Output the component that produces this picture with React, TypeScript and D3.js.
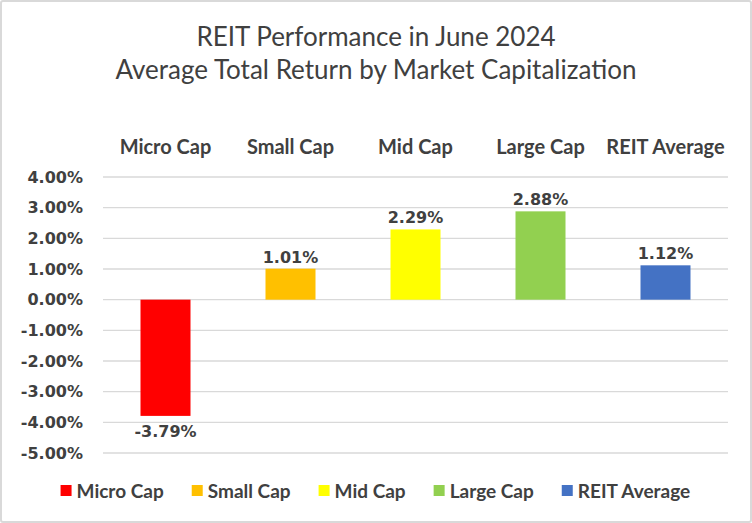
import * as d3 from 'd3';

const categories = ['Micro Cap', 'Small Cap', 'Mid Cap', 'Large Cap', 'REIT Average'];
const values = [-3.79, 1.01, 2.29, 2.88, 1.12];
const colors = ['#ff0000', '#ffc000', '#ffff00', '#92d050', '#4472c4'];
const yTicks = [4, 3, 2, 1, 0, -1, -2, -3, -4, -5];
const titleLines = ['REIT Performance  in June 2024', 'Average Total Return by Market Capitalization'];

const W = 752;
const H = 523;
const margin = { top: 177, right: 24, bottom: 70, left: 103 };
const FONT = 'Lato, "Open Sans", sans-serif';
const TICK_FONT = '"DejaVu Sans", Verdana, sans-serif';
const INK = '#404040';

const pct = (v: number) => `${v.toFixed(2)}%`;

function measure(text: string, font: string) {
  const ctx = document.createElement('canvas').getContext('2d');
  if (!ctx) return text.length * 8;
  ctx.font = font;
  return ctx.measureText(text).width;
}

export default function App() {
  const innerW = W - margin.left - margin.right;
  const x = d3.scaleBand<string>().domain(categories).range([0, 625]).paddingInner(0.6).paddingOuter(0.3);
  const y = d3.scaleLinear().domain([-5, 4]).range([453 - margin.top, 0]);

  // legend layout
  const legendFont = `bold 19px ${FONT}`;
  const sw = 11;
  const gap = 5;
  const spacing = 28;
  const widths = categories.map((c) => sw + gap + measure(c, legendFont));
  const total = d3.sum(widths) + spacing * (categories.length - 1);
  let lx = (W - total) / 2;
  const legendX = widths.map((w) => {
    const p = lx;
    lx += w + spacing;
    return p;
  });

  return (
    <svg width={W} height={H} style={{ position: 'absolute', left: 0, top: 0 }}>
      <rect x={1} y={1} width={W - 2} height={H - 2} fill="#fff" stroke="#d9d9d9" strokeWidth={2} rx={2} />
      {titleLines.map((t, i) => (
        <text key={t} x={W / 2} y={46 + i * 33} textAnchor="middle" fontFamily={FONT} fontSize={26} fill={INK}>
          {t}
        </text>
      ))}
      <g transform={`translate(${margin.left},${margin.top})`}>
        {yTicks.map((t) => (
          <g key={t}>
            <line x1={0} x2={innerW} y1={y(t)} y2={y(t)} stroke="#d9d9d9" strokeWidth={1.3} />
            <text x={-20} y={y(t)} dy="0.35em" textAnchor="end" fontFamily={TICK_FONT} fontWeight="bold" fontSize={16} fill={INK}>
              {pct(t)}
            </text>
          </g>
        ))}
        {categories.map((c, i) => {
          const v = values[i];
          const bx = x(c)!;
          const cx = bx + x.bandwidth() / 2;
          return (
            <g key={c}>
              <text x={cx} y={-23} textAnchor="middle" fontFamily={FONT} fontWeight="bold" fontSize={20} fill={INK}>
                {c}
              </text>
              <rect
                x={bx}
                width={x.bandwidth()}
                y={Math.min(y(v), y(0))}
                height={Math.abs(y(v) - y(0))}
                fill={colors[i]}
              />
              <text
                x={cx}
                y={v >= 0 ? y(v) - 6 : y(v) + 21}
                textAnchor="middle"
                fontFamily={TICK_FONT}
                fontWeight="bold"
                fontSize={16}
                fill={INK}
              >
                {pct(v)}
              </text>
            </g>
          );
        })}
      </g>
      {categories.map((c, i) => (
        <g key={c} transform={`translate(${legendX[i]},${491})`}>
          <rect x={0} y={-6} width={sw} height={sw} fill={colors[i]} />
          <text x={sw + gap} y={0} dy="0.35em" fontFamily={FONT} fontWeight="bold" fontSize={19} fill={INK}>
            {c}
          </text>
        </g>
      ))}
    </svg>
  );
}
